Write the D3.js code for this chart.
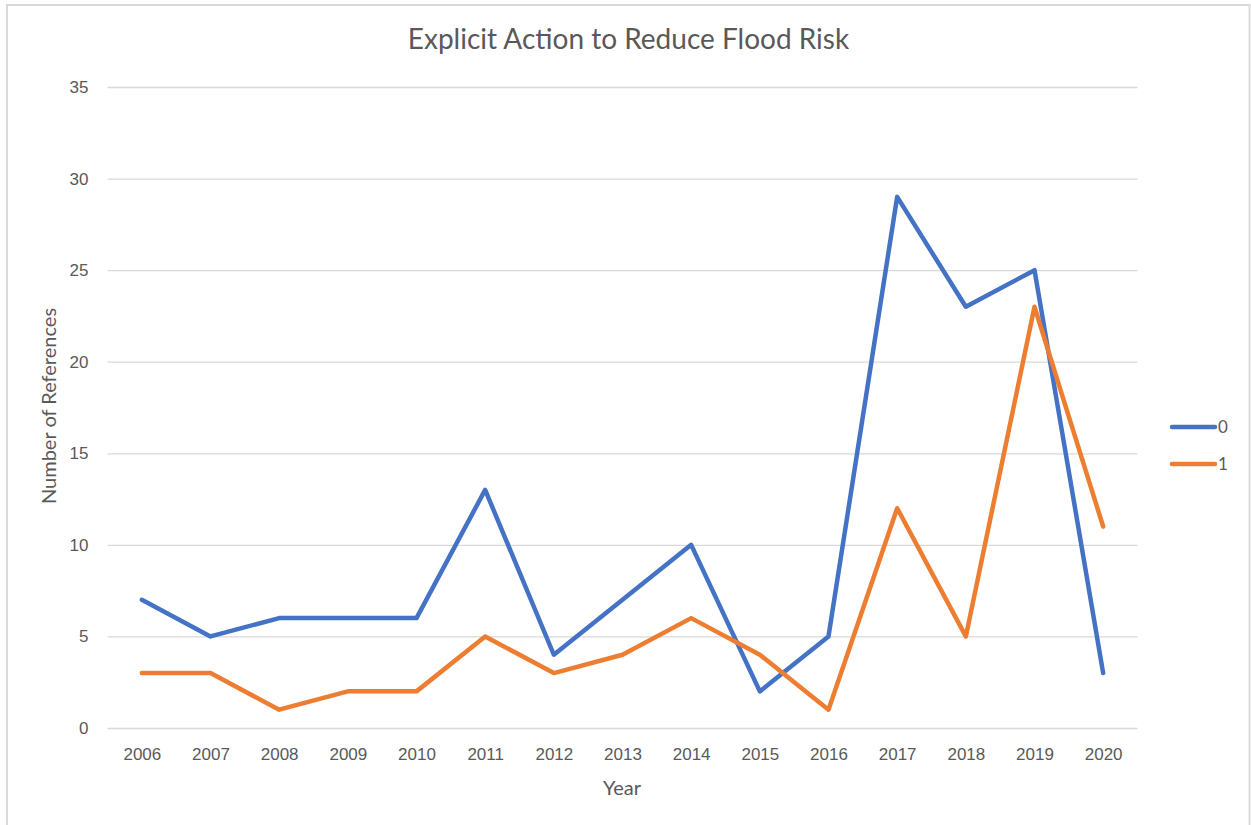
<!DOCTYPE html>
<html>
<head>
<meta charset="utf-8">
<script src="https://cdn.jsdelivr.net/npm/d3@7/dist/d3.min.js"></script>
<style>
  html, body { margin: 0; padding: 0; background: #fff; }
  svg { display: block; font-family: Lato, "Open Sans", sans-serif; }
</style>
</head>
<body>
<svg id="chart" width="1251" height="825"></svg>
<script>
// Yearly counts of references, split by the explicit-action flag (0 / 1)
const years = ["2006","2007","2008","2009","2010","2011","2012","2013","2014","2015","2016","2017","2018","2019","2020"];
const series0 = [7, 5, 6, 6, 6, 13, 4, 7, 10, 2, 5, 29, 23, 25, 3];
const series1 = [3, 3, 1, 2, 2, 5, 3, 4, 6, 4, 1, 12, 5, 23, 11];
const seriesNames = ["0", "1"];
const seriesColors = ["#4472C4", "#ED7D31"];
const yTicks = [0, 5, 10, 15, 20, 25, 30, 35];

const svg = d3.select("#chart");
const textColor = "#595959";

// outer frame of the chart area
svg.append("path")
  .attr("d", "M7,825 V5 H1249.5 V825")
  .attr("fill", "none")
  .attr("stroke", "#d9d9d9")
  .attr("stroke-width", 2);

const plot = { left: 107.5, right: 1137.5, top: 87, bottom: 728 };

const x = d3.scalePoint()
  .domain(years)
  .range([plot.left, plot.right])
  .padding(0.5);

const y = d3.scaleLinear()
  .domain([0, 35])
  .range([plot.bottom, plot.top]);

// horizontal gridlines + y labels
const yAxis = d3.axisLeft(y)
  .tickValues(yTicks)
  .tickSize(-(plot.right - plot.left))
  .tickPadding(19);

const gy = svg.append("g")
  .attr("transform", `translate(${plot.left},0)`)
  .call(yAxis);
gy.select(".domain").remove();
gy.selectAll(".tick line").attr("stroke", "#d9d9d9").attr("stroke-width", 1.3);
gy.selectAll(".tick text")
  .attr("fill", textColor)
  .attr("font-size", 17);

// category axis
const xAxis = d3.axisBottom(x).tickSize(0).tickPadding(20);
const gx = svg.append("g")
  .attr("transform", `translate(0,${plot.bottom})`)
  .call(xAxis);
gx.select(".domain").remove();
gx.selectAll(".tick text")
  .attr("fill", textColor)
  .attr("font-size", 17);

// lines
const line = d3.line()
  .x((d, i) => x(years[i]))
  .y(d => y(d));

[series0, series1].forEach((s, k) => {
  svg.append("path")
    .datum(s)
    .attr("d", line)
    .attr("fill", "none")
    .attr("stroke", seriesColors[k])
    .attr("stroke-width", 4.5)
    .attr("stroke-linejoin", "round")
    .attr("stroke-linecap", "round");
});

// title
svg.append("text")
  .attr("x", 628.5)
  .attr("y", 49)
  .attr("text-anchor", "middle")
  .attr("fill", textColor)
  .attr("font-size", 28)
  .text("Explicit Action to Reduce Flood Risk");

// axis titles
svg.append("text")
  .attr("x", 622)
  .attr("y", 795)
  .attr("text-anchor", "middle")
  .attr("fill", textColor)
  .attr("font-size", 20)
  .text("Year");

svg.append("text")
  .attr("transform", "translate(56,406) rotate(-90)")
  .attr("text-anchor", "middle")
  .attr("fill", textColor)
  .attr("font-size", 20)
  .text("Number of References");

// legend
const legend = svg.append("g");
seriesNames.forEach((name, k) => {
  const ly = 427 + k * 37;
  legend.append("line")
    .attr("x1", 1172).attr("x2", 1215)
    .attr("y1", ly).attr("y2", ly)
    .attr("stroke", seriesColors[k])
    .attr("stroke-width", 4.5)
    .attr("stroke-linecap", "round");
  legend.append("text")
    .attr("x", 1218)
    .attr("y", ly + 6)
    .attr("fill", textColor)
    .attr("font-size", 17)
    .text(name);
});
</script>
</body>
</html>
